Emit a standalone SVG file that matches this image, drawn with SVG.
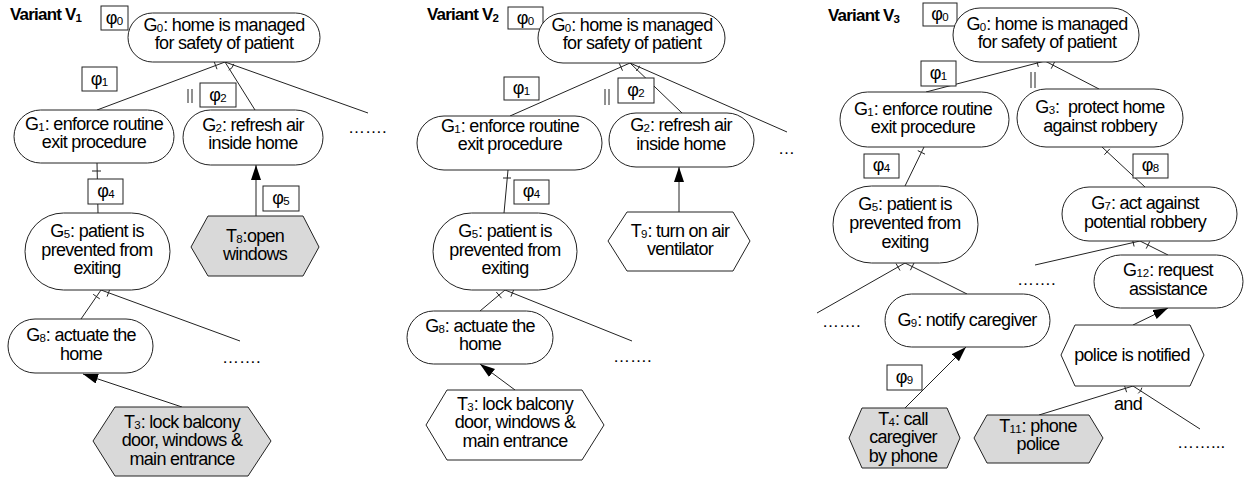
<svg xmlns="http://www.w3.org/2000/svg" width="1247" height="481" viewBox="0 0 1247 481">
<defs>
<marker id="ah" markerUnits="userSpaceOnUse" markerWidth="16" markerHeight="11" refX="15" refY="5" orient="auto">
<path d="M0,0 L15,5 L0,10 z" fill="#000"/>
</marker>
</defs>
<style>
.n{fill:#fff;stroke:#222;stroke-width:1}
.t{fill:#d9d9d9;stroke:#222;stroke-width:1}
.b{fill:#fff;stroke:#222;stroke-width:1}
.ln{stroke:#222;stroke-width:1;fill:none}
.ar{stroke:#222;stroke-width:1;fill:none;marker-end:url(#ah)}
text{font-family:"Liberation Sans",Arial,sans-serif;fill:#000}
.l{font-size:18px;letter-spacing:-0.7px;text-anchor:middle}
.s{font-size:11.5px;letter-spacing:0}
.h{font-size:17px;font-weight:bold;letter-spacing:-0.8px}
.d{font-size:17px}
</style>
<rect width="1247" height="481" fill="#fff"/>

<g id="connectors">
<!-- V1 -->
<path class="ln" d="M225,62 L97,110 M225,62 L255,110 M225,62 L368,113"/>
<path class="ln" d="M217,69.2 L214.2,61.8 M228.7,70.2 A9,9 0 0 0 233.8,63.9"/>
<path class="ln" d="M97,163 L98,213 M92,171 L101,171"/>
<path class="ln" d="M101,290 L81,319 M101,290 L240,341 M99.8,298.9 L93.2,294.3 M107.1,296.6 L109.9,289"/>
<path class="ar" d="M256,216 L256,165"/>
<path class="ar" d="M182,407 L83,374"/>
<path class="ln" d="M188,89 L188,103 M192,89 L192,103"/>
<!-- V2 -->
<path class="ln" d="M630,63 L510,116 M630,63 L682,113 M630,63 L787,132"/>
<path class="ln" d="M622.5,70.7 L619.3,63.3 M636.2,70.9 A10,10 0 0 0 639.6,65.8"/>
<path class="ln" d="M508,170 L504,213 M503,178 L511,178"/>
<path class="ln" d="M505,290 L480,311 M505,290 L632,341 M501.5,298.2 L496.3,292 M510.9,296.7 L513.9,289.3"/>
<path class="ar" d="M679,212 L679,167"/>
<path class="ar" d="M515,390 L480,364"/>
<path class="ln" d="M605,89 L605,105 M609,89 L609,105"/>
<!-- V3 -->
<path class="ln" d="M1045,61 L926,92 M1045,61 L1099,89 M1038.3,66.9 L1036.3,59.1 M1051.2,68.7 L1054.8,61.5"/>
<path class="ln" d="M1031,72 L1031,88 M1035,72 L1035,88"/>
<path class="ln" d="M924,147 L905,186 M925,154.2 L917.8,150.6"/>
<path class="ln" d="M1102,147 L1145,187 M1104.4,154.7 L1109.8,148.9"/>
<path class="ln" d="M905,263 L817,313 M905,263 L967,294 M900,270.5 L896,263.5 M910.4,270.2 L914,263"/>
<path class="ln" d="M1140,241 L1035,265 M1140,241 L1168,255 M1134.1,246.5 L1132.3,238.7 M1146.2,248.6 L1149.8,241.4"/>
<path class="ln" d="M1133,386 L1039,415 M1133,386 L1200,429 M1126.6,392.2 L1124.2,384.6 M1138.2,393.4 A9,9 0 0 0 1141.9,387.6"/>
<path class="ar" d="M905,408 L966,347"/>
<path class="ar" d="M1133,325 L1168,308"/>
</g>

<!-- ===== Variant V1 ===== -->
<g id="title-v1"><text class="h" x="10" y="20">Variant V<tspan class="s" dy="2">1</tspan></text></g>
<g id="v1-phi0"><rect class="b" x="101" y="6" width="27" height="24"/><text class="l" x="114.5" y="24">φ<tspan class="s" dy="1">0</tspan></text></g>
<g id="v1-G0"><rect class="n" x="128" y="13" width="192" height="49" rx="24.5"/>
<text class="l" x="224" y="31">G<tspan class="s" dy="1">0</tspan><tspan dy="-1">: home is managed</tspan></text>
<text class="l" x="224" y="49">for safety of patient</text></g>
<g id="v1-phi1"><rect class="b" x="82" y="67" width="35" height="24"/><text class="l" x="99.5" y="85">φ<tspan class="s" dy="1">1</tspan></text></g>
<g id="v1-phi2"><rect class="b" x="200" y="83" width="36" height="24"/><text class="l" x="218" y="101">φ<tspan class="s" dy="1">2</tspan></text></g>
<g id="v1-G1"><rect class="n" x="14" y="110" width="160" height="53" rx="26.5"/>
<text class="l" x="94" y="130">G<tspan class="s" dy="1">1</tspan><tspan dy="-1">: enforce routine</tspan></text>
<text class="l" x="94" y="148">exit procedure</text></g>
<g id="v1-G2"><rect class="n" x="183" y="110" width="140" height="55" rx="27.5"/>
<text class="l" x="253" y="131">G<tspan class="s" dy="1">2</tspan><tspan dy="-1">: refresh air</tspan></text>
<text class="l" x="253" y="149">inside home</text></g>
<g id="v1-more1"><text class="d" x="348" y="133">…….</text></g>
<g id="v1-phi4"><rect class="b" x="88" y="179" width="35" height="25"/><text class="l" x="106" y="197">φ<tspan class="s" dy="1">4</tspan></text></g>
<g id="v1-phi5"><rect class="b" x="263" y="186" width="36" height="25"/><text class="l" x="281" y="204">φ<tspan class="s" dy="1">5</tspan></text></g>
<g id="v1-G5"><rect class="n" x="25" y="213" width="145" height="77" rx="38.5"/>
<text class="l" x="97" y="237">G<tspan class="s" dy="1">5</tspan><tspan dy="-1">: patient is</tspan></text>
<text class="l" x="97" y="256">prevented from</text>
<text class="l" x="97" y="274">exiting</text></g>
<g id="v1-T8"><polygon class="t" points="191,247 208,216 303,216 319,247 303,276 208,276"/>
<text class="l" x="255" y="242">T<tspan class="s" dy="1">8</tspan><tspan dy="-1">:open</tspan></text>
<text class="l" x="255" y="260">windows</text></g>
<g id="v1-G8"><rect class="n" x="8" y="319" width="145" height="54" rx="27"/>
<text class="l" x="81" y="341">G<tspan class="s" dy="1">8</tspan><tspan dy="-1">: actuate the</tspan></text>
<text class="l" x="81" y="360">home</text></g>
<g id="v1-more2"><text class="d" x="222" y="363">…….</text></g>
<g id="v1-T3"><polygon class="t" points="93,441 115,407 248,407 271,441 248,476 115,476"/>
<text class="l" x="182" y="428">T<tspan class="s" dy="1">3</tspan><tspan dy="-1">: lock balcony</tspan></text>
<text class="l" x="182" y="446">door, windows &amp;</text>
<text class="l" x="182" y="465">main entrance</text></g>

<!-- ===== Variant V2 ===== -->
<g id="title-v2"><text class="h" x="427" y="20">Variant V<tspan class="s" dy="2">2</tspan></text></g>
<g id="v2-phi0"><rect class="b" x="508" y="7" width="35" height="22"/><text class="l" x="525.5" y="24">φ<tspan class="s" dy="1">0</tspan></text></g>
<g id="v2-G0"><rect class="n" x="538" y="13" width="187" height="50" rx="25"/>
<text class="l" x="632" y="31">G<tspan class="s" dy="1">0</tspan><tspan dy="-1">: home is managed</tspan></text>
<text class="l" x="632" y="49">for safety of patient</text></g>
<g id="v2-phi1"><rect class="b" x="504" y="77" width="35" height="23"/><text class="l" x="521.5" y="94">φ<tspan class="s" dy="1">1</tspan></text></g>
<g id="v2-phi2"><rect class="b" x="618" y="78" width="36" height="25"/><text class="l" x="636" y="96">φ<tspan class="s" dy="1">2</tspan></text></g>
<g id="v2-G1"><rect class="n" x="417" y="116" width="185" height="54" rx="27"/>
<text class="l" x="510" y="132">G<tspan class="s" dy="1">1</tspan><tspan dy="-1">: enforce routine</tspan></text>
<text class="l" x="510" y="150">exit procedure</text></g>
<g id="v2-G2"><rect class="n" x="609" y="113" width="145" height="54" rx="27"/>
<text class="l" x="681" y="131">G<tspan class="s" dy="1">2</tspan><tspan dy="-1">: refresh air</tspan></text>
<text class="l" x="681" y="150">inside home</text></g>
<g id="v2-more1"><text class="d" x="778" y="154">…</text></g>
<g id="v2-phi4"><rect class="b" x="514" y="180" width="35" height="24"/><text class="l" x="531.5" y="197">φ<tspan class="s" dy="1">4</tspan></text></g>
<g id="v2-G5"><rect class="n" x="433" y="213" width="144" height="77" rx="38.5"/>
<text class="l" x="505" y="237">G<tspan class="s" dy="1">5</tspan><tspan dy="-1">: patient is</tspan></text>
<text class="l" x="505" y="256">prevented from</text>
<text class="l" x="505" y="274">exiting</text></g>
<g id="v2-T9"><polygon class="n" points="608,241 627,212 733,212 750,241 733,271 627,271"/>
<text class="l" x="680" y="237">T<tspan class="s" dy="1">9</tspan><tspan dy="-1">: turn on air</tspan></text>
<text class="l" x="680" y="255">ventilator</text></g>
<g id="v2-G8"><rect class="n" x="407" y="311" width="146" height="53" rx="26.5"/>
<text class="l" x="480" y="332">G<tspan class="s" dy="1">8</tspan><tspan dy="-1">: actuate the</tspan></text>
<text class="l" x="480" y="350">home</text></g>
<g id="v2-more2"><text class="d" x="613" y="362">…….</text></g>
<g id="v2-T3"><polygon class="n" points="426,425 447,390 582,390 604,425 582,460 447,460"/>
<text class="l" x="515" y="410">T<tspan class="s" dy="1">3</tspan><tspan dy="-1">: lock balcony</tspan></text>
<text class="l" x="515" y="428">door, windows &amp;</text>
<text class="l" x="515" y="447">main entrance</text></g>

<!-- ===== Variant V3 ===== -->
<g id="title-v3"><text class="h" x="828" y="21">Variant V<tspan class="s" dy="2">3</tspan></text></g>
<g id="v3-phi0"><rect class="b" x="923" y="3" width="34" height="23"/><text class="l" x="940" y="20">φ<tspan class="s" dy="1">0</tspan></text></g>
<g id="v3-G0"><rect class="n" x="953" y="8" width="186" height="54" rx="27"/>
<text class="l" x="1047" y="30">G<tspan class="s" dy="1">0</tspan><tspan dy="-1">: home is managed</tspan></text>
<text class="l" x="1047" y="48">for safety of patient</text></g>
<g id="v3-phi1"><rect class="b" x="921" y="61" width="35" height="25"/><text class="l" x="938.5" y="79">φ<tspan class="s" dy="1">1</tspan></text></g>
<g id="v3-G1"><rect class="n" x="840" y="92" width="169" height="55" rx="27.5"/>
<text class="l" x="923" y="115">G<tspan class="s" dy="1">1</tspan><tspan dy="-1">: enforce routine</tspan></text>
<text class="l" x="923" y="133">exit procedure</text></g>
<g id="v3-G3"><rect class="n" x="1017" y="89" width="166" height="58" rx="29"/>
<text class="l" x="1100" y="113" xml:space="preserve" style="white-space:pre">G<tspan class="s" dy="1">3</tspan><tspan dy="-1">:  protect home</tspan></text>
<text class="l" x="1100" y="132">against robbery</text></g>
<g id="v3-phi4"><rect class="b" x="864" y="154" width="35" height="24"/><text class="l" x="881.5" y="171">φ<tspan class="s" dy="1">4</tspan></text></g>
<g id="v3-phi8"><rect class="b" x="1133" y="154" width="35" height="24"/><text class="l" x="1150.5" y="171">φ<tspan class="s" dy="1">8</tspan></text></g>
<g id="v3-G5"><rect class="n" x="833" y="186" width="145" height="77" rx="38.5"/>
<text class="l" x="905" y="210">G<tspan class="s" dy="1">5</tspan><tspan dy="-1">: patient is</tspan></text>
<text class="l" x="905" y="229">prevented from</text>
<text class="l" x="905" y="248">exiting</text></g>
<g id="v3-G7"><rect class="n" x="1062" y="187" width="175" height="54" rx="27"/>
<text class="l" x="1145" y="209">G<tspan class="s" dy="1">7</tspan><tspan dy="-1">: act against</tspan></text>
<text class="l" x="1145" y="228">potential robbery</text></g>
<g id="v3-more1"><text class="d" x="1017" y="285">…….</text></g>
<g id="v3-G12"><rect class="n" x="1094" y="255" width="149" height="53" rx="26.5"/>
<text class="l" x="1168" y="276">G<tspan class="s" dy="1">12</tspan><tspan dy="-1">: request</tspan></text>
<text class="l" x="1168" y="295">assistance</text></g>
<g id="v3-more2"><text class="d" x="822" y="327">…….</text></g>
<g id="v3-G9"><rect class="n" x="885" y="294" width="165" height="53" rx="26.5"/>
<text class="l" x="967" y="326">G<tspan class="s" dy="1">9</tspan><tspan dy="-1">: notify caregiver</tspan></text></g>
<g id="v3-phi9"><rect class="b" x="887" y="365" width="35" height="25"/><text class="l" x="904.5" y="383">φ<tspan class="s" dy="1">9</tspan></text></g>
<g id="v3-T4"><polygon class="t" points="849,438 862,408 947,408 960,438 947,468 862,468"/>
<text class="l" x="903" y="425">T<tspan class="s" dy="1">4</tspan><tspan dy="-1">: call</tspan></text>
<text class="l" x="903" y="443">caregiver</text>
<text class="l" x="903" y="462">by phone</text></g>
<g id="v3-police"><polygon class="n" points="1061,355 1075,325 1190,325 1204,355 1190,386 1075,386"/>
<text class="l" x="1132" y="361">police is notified</text></g>
<g id="v3-and"><text class="l" x="1128" y="410">and</text></g>
<g id="v3-T11"><polygon class="t" points="974,438 987,415 1089,415 1103,438 1089,463 987,463"/>
<text class="l" x="1038" y="432">T<tspan class="s" dy="1">11</tspan><tspan dy="-1">: phone</tspan></text>
<text class="l" x="1038" y="450">police</text></g>
<g id="v3-more3"><text class="d" x="1177" y="448">……...</text></g>
</svg>
